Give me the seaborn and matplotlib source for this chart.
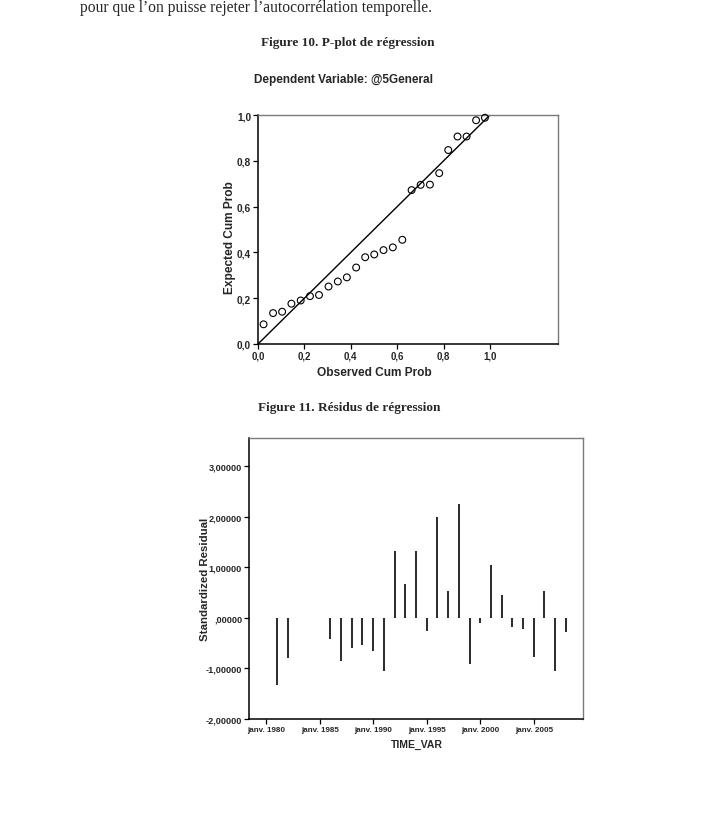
import matplotlib
matplotlib.use("Agg")
import matplotlib.pyplot as plt
import seaborn as sns
import pandas as pd

# P-PLOT DATA (observed vs expected cumulative probability)
observed_cum = [0.024, 0.065, 0.104, 0.144, 0.184, 0.224, 0.263, 0.304, 0.344,
                0.383, 0.423, 0.462, 0.501, 0.541, 0.581, 0.622, 0.662, 0.701,
                0.741, 0.781, 0.820, 0.860, 0.899, 0.940, 0.978]
expected_cum = [0.086, 0.135, 0.141, 0.176, 0.190, 0.209, 0.214, 0.251, 0.273,
                0.291, 0.334, 0.379, 0.391, 0.410, 0.422, 0.455, 0.672, 0.695,
                0.696, 0.746, 0.847, 0.906, 0.906, 0.977, 0.988]
diag = [0.0, 1.0]
pp_ticks = [0.0, 0.2, 0.4, 0.6, 0.8, 1.0]
pp_tick_labels = ["0,0", "0,2", "0,4", "0,6", "0,8", "1,0"]

# RESIDUALS DATA (yearly standardized residuals)
years = [1981, 1982, 1986, 1987, 1988, 1989, 1990, 1991, 1992, 1993, 1994,
         1995, 1996, 1997, 1998, 1999, 2000, 2001, 2002, 2003, 2004, 2005,
         2006, 2007, 2008]
residuals = [-1.33, -0.80, -0.42, -0.86, -0.59, -0.53, -0.66, -1.06, 1.33,
             0.68, 1.33, -0.26, 1.99, 0.53, 2.25, -0.91, -0.11, 1.05, 0.46,
             -0.18, -0.22, -0.78, 0.53, -1.05, -0.28]
res_yticks = [-2, -1, 0, 1, 2, 3]
res_ytick_labels = ["-2,00000", "-1,00000", ",00000", "1,00000", "2,00000",
                    "3,00000"]
res_xticks = [1980, 1985, 1990, 1995, 2000, 2005]
res_xtick_labels = ["janv. 1980", "janv. 1985", "janv. 1990", "janv. 1995",
                    "janv. 2000", "janv. 2005"]

pp_df = pd.DataFrame({"obs": observed_cum, "exp": expected_cum})
diag_df = pd.DataFrame({"x": diag, "y": diag})
res_df = pd.DataFrame({"year": years, "res": residuals})

sns.set_style("ticks")
plt.rcParams["font.family"] = ["Liberation Sans", "DejaVu Sans"]

W, H = 705, 828
fig = plt.figure(figsize=(W / 100, H / 100), dpi=100)


def box(l, t, r, b):
    return [l / W, 1 - b / H, (r - l) / W, (b - t) / H]


def style_frame(ax, xsize, ysize):
    for s in ["left", "bottom"]:
        ax.spines[s].set_color("black")
        ax.spines[s].set_linewidth(1.1)
    for s in ["top", "right"]:
        ax.spines[s].set_visible(True)
        ax.spines[s].set_color("#7a7a7a")
        ax.spines[s].set_linewidth(1.0)
    ax.tick_params(direction="out", length=3.5, width=0.9, color="black",
                   pad=1.5)
    ax.tick_params(axis="x", labelsize=xsize)
    ax.tick_params(axis="y", labelsize=ysize)
    for lab in ax.get_xticklabels() + ax.get_yticklabels():
        lab.set_fontweight("bold")


# PAGE TEXT
fig.text(80 / W, 1 - 12 / H,
         "pour que l\u2019on puisse rejeter l\u2019autocorr\u00e9lation temporelle.",
         family="Liberation Serif", fontsize=11.2, va="baseline", ha="left")
fig.text(348 / W, 1 - 43 / H, "Figure 10. P-plot de r\u00e9gression",
         family="Liberation Serif", fontweight="bold", fontsize=9.5,
         ha="center", va="center")
fig.text(344 / W, 1 - 80 / H, "Dependent Variable: @5General",
         fontweight="bold", fontsize=8.5, ha="center", va="center")
fig.text(349 / W, 1 - 408 / H, "Figure 11. R\u00e9sidus de r\u00e9gression",
         family="Liberation Serif", fontweight="bold", fontsize=9.5,
         ha="center", va="center")

# P-PLOT
ax1 = fig.add_axes(box(258, 116, 558, 345))
sns.lineplot(data=diag_df, x="x", y="y", color="black", linewidth=1.0, ax=ax1)
sns.scatterplot(data=pp_df, x="obs", y="exp", marker="o", s=24,
                facecolor="none", edgecolor="black", linewidth=0.8,
                ax=ax1, clip_on=False, zorder=3)
ax1.set_xlim(0, 1.293)
ax1.set_ylim(0, 1.0)
ax1.set_xticks(pp_ticks)
ax1.set_xticklabels(pp_tick_labels)
ax1.set_yticks(pp_ticks)
ax1.set_yticklabels(pp_tick_labels)
style_frame(ax1, 7, 7.3)
ax1.set_xlabel("Observed Cum Prob", fontsize=8.6, fontweight="bold")
ax1.set_ylabel("Expected Cum Prob", fontsize=8.6, fontweight="bold")
ax1.xaxis.set_label_coords(0.387, -0.095)
ax1.yaxis.set_label_coords(-0.075, 0.47)

# RESIDUALS
ax2 = fig.add_axes(box(249, 439, 583, 720))
sns.barplot(data=res_df, x="year", y="res", native_scale=True, width=0.187,
            color="#2f2f2f", linewidth=0, errorbar=None, ax=ax2)
for bar in ax2.patches:
    bar.set_antialiased(False)
ax2.set_xlim(1978.4, 2009.6)
ax2.set_ylim(-2, 3.56)
ax2.set_xticks(res_xticks)
ax2.set_xticklabels(res_xtick_labels)
ax2.set_yticks(res_yticks)
ax2.set_yticklabels(res_ytick_labels)
style_frame(ax2, 5.8, 6.6)
ax2.set_xlabel("TIME_VAR", fontsize=7.5, fontweight="bold")
ax2.set_ylabel("Standardized Residual", fontsize=8.2, fontweight="bold")
ax2.xaxis.set_label_coords(0.503, -0.072)
ax2.yaxis.set_label_coords(-0.118, 0.5)

fig.savefig("out.png", dpi=100)
